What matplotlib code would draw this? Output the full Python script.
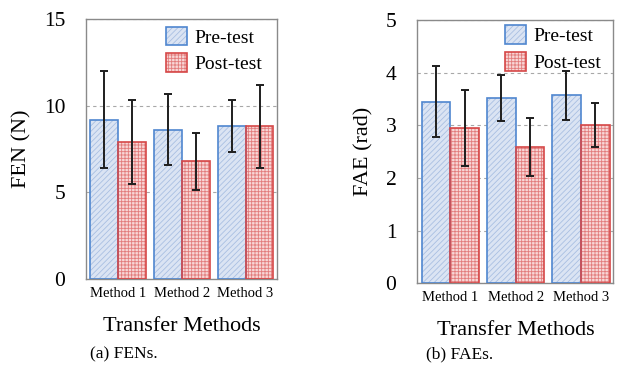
import numpy as np
import matplotlib as mpl
import matplotlib.pyplot as plt
from matplotlib.patches import Patch

mpl.rcParams['font.family'] = ['Liberation Serif', 'DejaVu Serif']
mpl.rcParams['hatch.linewidth'] = 0.6

methods = ['Method 1', 'Method 2', 'Method 3']
groups = ['Pre-test', 'Post-test']

fen_pre = [9.2, 8.6, 8.85]
fen_pre_err = [2.8, 2.05, 1.5]
fen_post = [7.9, 6.8, 8.8]
fen_post_err = [2.4, 1.65, 2.4]

fae_pre = [3.45, 3.52, 3.57]
fae_pre_err = [0.67, 0.43, 0.46]
fae_post = [2.95, 2.59, 3.0]
fae_post_err = [0.73, 0.55, 0.42]

# face, hatch colour, outline, hatch pattern
STYLE = {
    'Pre-test': ('#dbe4f3', '#a9bfe2', '#4f86cf', '//////'),
    'Post-test': ('#f8d6d6', '#e27c7c', '#d64848', '+++++'),
}

fig = plt.figure(figsize=(6.19, 3.81), dpi=100)
axL = fig.add_axes([0.139, 0.268, 0.309, 0.682])
axR = fig.add_axes([0.674, 0.257, 0.317, 0.690])


def bars(ax, xs, vals, errs, w, name):
    face, hcol, edge, hatch = STYLE[name]
    # hatch layer (hatch takes the edge colour, so outline is drawn separately)
    ax.bar(xs, vals, w, facecolor=face, edgecolor=hcol, hatch=hatch, linewidth=0, zorder=2)
    ax.bar(xs, vals, w, facecolor='none', edgecolor=edge, linewidth=1.2, yerr=errs,
           ecolor='#1e1e1e', capsize=3, error_kw=dict(elinewidth=1.4, capthick=1.4), zorder=3)
    h1 = Patch(facecolor=face, edgecolor=hcol, hatch=hatch, linewidth=0)
    h2 = Patch(facecolor='none', edgecolor=edge, linewidth=1.2)
    return (h1, h2)


def panel(ax, pre, pre_err, post, post_err, ymax, step, ylabel, caption, cap_x, anchor):
    x = np.arange(len(methods))
    w = 0.44
    hp = bars(ax, x - w / 2, pre, pre_err, w, groups[0])
    hq = bars(ax, x + w / 2, post, post_err, w, groups[1])
    ax.set_xlim(-0.51, 2.5)
    ax.set_ylim(0, ymax)
    ax.set_yticks(np.arange(0, ymax + 0.01, step))
    ax.yaxis.grid(True, linestyle=(0, (3, 3)), color='#a8a8a8', linewidth=0.8)
    ax.set_axisbelow(True)
    ax.set_xticks(x)
    ax.set_xticklabels(methods, fontsize=10.5)
    ax.tick_params(axis='both', length=0)
    ax.tick_params(axis='y', labelsize=15.5, pad=15)
    ax.tick_params(axis='x', pad=6)
    for s in ax.spines.values():
        s.set_color('#8a8a8a')
        s.set_linewidth(1.0)
    ax.set_ylabel(ylabel, fontsize=16, labelpad=9)
    ax.set_xlabel('Transfer Methods', fontsize=16, labelpad=12)
    ax.legend([hp, hq], groups, loc='upper right', bbox_to_anchor=anchor,
              fontsize=14, frameon=False, handlelength=1.1, handleheight=1.1,
              handletextpad=0.4, labelspacing=0.35, borderaxespad=0.15)
    fig.text(cap_x, 0.07, caption, ha='center', va='center', fontsize=12.5)


panel(axL, fen_pre, fen_pre_err, fen_post, fen_post_err, 15, 5, 'FEN (N)', '(a) FENs.',
      0.2, (0.979, 1.012))
panel(axR, fae_pre, fae_pre_err, fae_post, fae_post_err, 5, 1, 'FAE (rad)', '(b) FAEs.',
      0.743, (0.995, 1.022))

fig.savefig('out.png', dpi=100, facecolor='white')
